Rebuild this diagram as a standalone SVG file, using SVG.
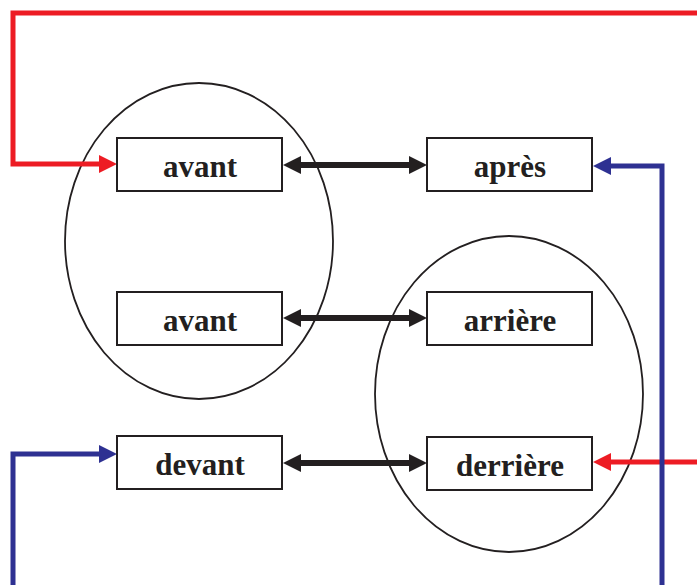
<svg xmlns="http://www.w3.org/2000/svg" width="697" height="585" viewBox="0 0 697 585">
<style>
.box{fill:#fff;stroke:#231f20;stroke-width:2}
.ell{fill:none;stroke:#231f20;stroke-width:1.8}
.lbl{font-family:"Liberation Serif","Times New Roman",serif;font-weight:bold;font-size:31px;fill:#231f20;text-anchor:middle}
.red{fill:none;stroke:#ED1C24;stroke-width:5}
.blue{fill:none;stroke:#2E3192;stroke-width:5}
.blk{fill:none;stroke:#231f20;stroke-width:6}
</style>
<defs>
<marker id="ar" viewBox="0 0 18 18" refX="8" refY="9" markerWidth="18" markerHeight="18" markerUnits="userSpaceOnUse" orient="auto"><path d="M0,0L18,9L0,18z" fill="#ED1C24"/></marker>
<marker id="ab" viewBox="0 0 18 18" refX="8" refY="9" markerWidth="18" markerHeight="18" markerUnits="userSpaceOnUse" orient="auto"><path d="M0,0L18,9L0,18z" fill="#2E3192"/></marker>
<marker id="ak" viewBox="0 0 18 18" refX="8" refY="9" markerWidth="18" markerHeight="18" markerUnits="userSpaceOnUse" orient="auto-start-reverse"><path d="M0,0L18,9L0,18z" fill="#231f20"/></marker>
</defs>
<g id="ellipses">
<ellipse class="ell" cx="199" cy="241" rx="134" ry="158"/>
<ellipse class="ell" cx="509" cy="394" rx="134" ry="158"/>
</g>
<g id="connectors">
<path class="red" d="M697,13H13V164H107" marker-end="url(#ar)"/>
<path class="red" d="M697,462H603" marker-end="url(#ar)"/>
<path class="blue" d="M662,585V166H603" marker-end="url(#ab)"/>
<path class="blue" d="M13,585V454H107" marker-end="url(#ab)"/>
<path class="blk" d="M293,165H417" marker-start="url(#ak)" marker-end="url(#ak)"/>
<path class="blk" d="M293,318H417" marker-start="url(#ak)" marker-end="url(#ak)"/>
<path class="blk" d="M293,463H417" marker-start="url(#ak)" marker-end="url(#ak)"/>
</g>
<g id="n-avant1"><rect class="box" x="117" y="138" width="165" height="53"/><text class="lbl" x="200" y="177">avant</text></g>
<g id="n-apres"><rect class="box" x="427" y="138" width="165" height="53"/><text class="lbl" x="510" y="177">après</text></g>
<g id="n-avant2"><rect class="box" x="117" y="292" width="165" height="53"/><text class="lbl" x="200" y="331">avant</text></g>
<g id="n-arriere"><rect class="box" x="427" y="292" width="165" height="53"/><text class="lbl" x="510" y="331">arrière</text></g>
<g id="n-devant"><rect class="box" x="117" y="436" width="165" height="53"/><text class="lbl" x="200" y="475">devant</text></g>
<g id="n-derriere"><rect class="box" x="427" y="437" width="165" height="53"/><text class="lbl" x="510" y="476">derrière</text></g>
</svg>
